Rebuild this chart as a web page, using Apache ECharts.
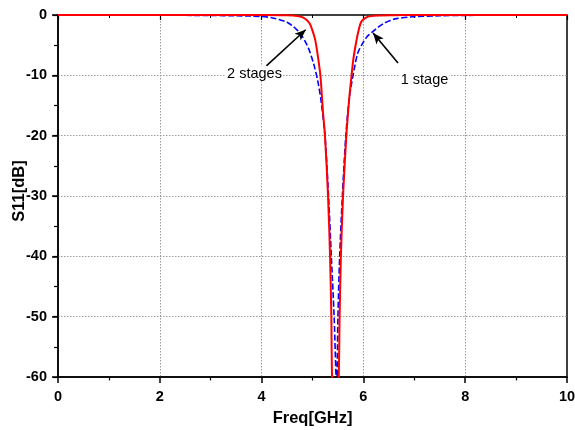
<!DOCTYPE html>
<html>
<head>
<meta charset="utf-8">
<script src="https://cdn.jsdelivr.net/npm/echarts@6/dist/echarts.min.js"></script>
<style>
  html, body { margin: 0; padding: 0; background: #fff; }
  #chart { width: 575px; height: 430px; }
</style>
</head>
<body>
<div id="chart"></div>
<script>
// Return loss of the notch filter, one stage vs two stages
const freqOneStage = [0, 1, 2, 3, 3.5, 3.8, 4.0, 4.2, 4.36, 4.5, 4.62, 4.7, 4.78, 4.85, 4.92, 4.975, 5.03, 5.105, 5.165, 5.245, 5.315, 5.37, 5.425, 5.475, 5.50, 5.534, 5.587, 5.655, 5.72, 5.775, 5.835, 5.89, 5.97, 6.07, 6.19, 6.31, 6.42, 6.53, 6.65, 6.97, 7.5, 8, 9, 10];
const s11OneStage  = [0, -0.01, -0.03, -0.08, -0.12, -0.18, -0.25, -0.45, -0.8, -1.2, -1.9, -2.5, -3.3, -4.3, -5.5, -6.8, -8.3, -11, -14, -20, -30, -40, -50, -62, -50, -40, -30, -20, -14, -11, -8.3, -6.3, -4.9, -3.6, -2.7, -1.9, -1.3, -0.9, -0.6, -0.3, -0.12, -0.06, -0.02, 0];

const freqTwoStages = [0, 1, 2, 3, 4, 4.5, 4.7, 4.8, 4.88, 4.95, 5.0, 5.05, 5.1, 5.155, 5.205, 5.245, 5.305, 5.345, 5.37, 5.385, 5.45, 5.515, 5.533, 5.558, 5.600, 5.665, 5.72, 5.755, 5.80, 5.86, 5.91, 5.96, 6.05, 6.12, 6.3, 6.6, 7, 8, 9, 10];
const s11TwoStages  = [0, 0, 0, 0, -0.01, -0.05, -0.15, -0.35, -0.8, -1.5, -2.6, -4.0, -6.5, -10, -16, -20, -30, -40, -50, -60, -72, -60, -50, -40, -30, -20, -14, -11, -7.5, -4.4, -2.4, -1.1, -0.45, -0.23, -0.08, -0.03, 0, 0, 0, 0];

// Callout text and arrow ends, in GHz / dB
const calloutText   = ['2 stages', '1 stage'];
const calloutAnchor = [[3.86, -9.75], [7.2, -10.75]];
const arrowTail     = [[4.094, -8.42], [6.68, -7.97]];
const arrowHead     = [[4.866, -2.44], [6.19, -2.99]];

const xTicks = [0, 2, 4, 6, 8, 10];
const yTicks = [-60, -50, -40, -30, -20, -10, 0];

const pairs = (xs, ys) => xs.map((x, i) => [x, ys[i]]);
const FONT = '"Liberation Sans", Arial, sans-serif';

const chart = echarts.init(document.getElementById('chart'), null, { renderer: 'canvas' });

const gridLine = { show: true, showMinLine: false, showMaxLine: false, lineStyle: { color: '#9a9a9a', type: [1.5, 1.5], width: 1 } };

chart.setOption({
  animation: false,
  backgroundColor: '#fff',
  grid: {
    left: 58, right: 8, top: 15, bottom: 53,
    outerBoundsMode: 'none', containLabel: false,
    show: true, borderColor: '#000', borderWidth: 1.5, backgroundColor: 'transparent'
  },
  xAxis: [{
    type: 'value', min: xTicks[0], max: xTicks[xTicks.length - 1], interval: 2,
    name: 'Freq[GHz]', nameLocation: 'middle', nameGap: 33, nameMoveOverlap: false,
    nameTextStyle: { fontFamily: FONT, fontWeight: 'bold', fontSize: 16.5, color: '#000' },
    axisLine: { show: true, onZero: false, lineStyle: { color: '#000', width: 1.5 } },
    axisTick: { show: true, inside: false, length: 6, lineStyle: { color: '#000', width: 1.5 } },
    minorTick: { show: true, splitNumber: 2, length: 3.5, lineStyle: { color: '#000', width: 1.2 } },
    axisLabel: { fontFamily: FONT, fontWeight: 'bold', fontSize: 14.5, color: '#000', margin: 12 },
    splitLine: gridLine
  }, {
    type: 'value', position: 'top', min: 0, max: 10, interval: 2,
    axisLine: { show: false },
    axisTick: { show: true, inside: true, length: 5, lineStyle: { color: '#000', width: 1.2 } },
    minorTick: { show: true, splitNumber: 2, length: 3, lineStyle: { color: '#000', width: 1 } },
    axisLabel: { show: false }, splitLine: { show: false }
  }],
  yAxis: [{
    type: 'value', min: yTicks[0], max: yTicks[yTicks.length - 1], interval: 10,
    name: 'S11[dB]', nameLocation: 'middle', nameGap: 30, nameRotate: 90, nameMoveOverlap: false,
    nameTextStyle: { fontFamily: FONT, fontWeight: 'bold', fontSize: 16.5, color: '#000', padding: [0, 0, 0, 10] },
    axisLine: { show: true, onZero: false, lineStyle: { color: '#000', width: 1.5 } },
    axisTick: { show: true, inside: false, length: 6, lineStyle: { color: '#000', width: 1.5 } },
    minorTick: { show: true, splitNumber: 2, length: 4, lineStyle: { color: '#000', width: 1.2 } },
    axisLabel: { fontFamily: FONT, fontWeight: 'bold', fontSize: 14.5, color: '#000', margin: 11 },
    splitLine: gridLine
  }, {
    type: 'value', position: 'right', min: -60, max: 0, interval: 10,
    axisLine: { show: false },
    axisTick: { show: true, inside: true, length: 5, lineStyle: { color: '#000', width: 1.2 } },
    minorTick: { show: true, splitNumber: 2, length: 3, lineStyle: { color: '#000', width: 1 } },
    axisLabel: { show: false }, splitLine: { show: false }
  }],
  series: [{
    name: '1 stage', type: 'line', data: pairs(freqOneStage, s11OneStage),
    showSymbol: false, smooth: 0.3, clip: true,
    lineStyle: { color: '#0000ff', width: 1.6, type: [6, 2.5] }, z: 3
  }, {
    name: '2 stages', type: 'line', data: pairs(freqTwoStages, s11TwoStages),
    showSymbol: false, smooth: 0.3, clip: true,
    lineStyle: { color: '#ff0000', width: 2 }, z: 4,
    markLine: {
      silent: true, symbol: ['none', 'arrow'], symbolSize: [7, 11], precision: 3,
      lineStyle: { color: '#000', width: 1.6, type: 'solid' },
      label: { show: false },
      data: arrowTail.map((t, i) => [{ coord: t }, { coord: arrowHead[i] }])
    }
  }]
});

// Callout labels placed through the axis scales
function placeCallouts() {
  const elements = calloutText.map((txt, i) => {
    const p = chart.convertToPixel({ xAxisIndex: 0, yAxisIndex: 0 }, calloutAnchor[i]);
    return {
      type: 'text', x: p[0], y: p[1], z: 10,
      style: {
        text: txt, fill: '#000', font: '14.5px ' + FONT,
        align: 'center', verticalAlign: 'middle',
        backgroundColor: '#fff', padding: [0, 1]
      }
    };
  });
  chart.setOption({ graphic: elements });
}
placeCallouts();
</script>
</body>
</html>
